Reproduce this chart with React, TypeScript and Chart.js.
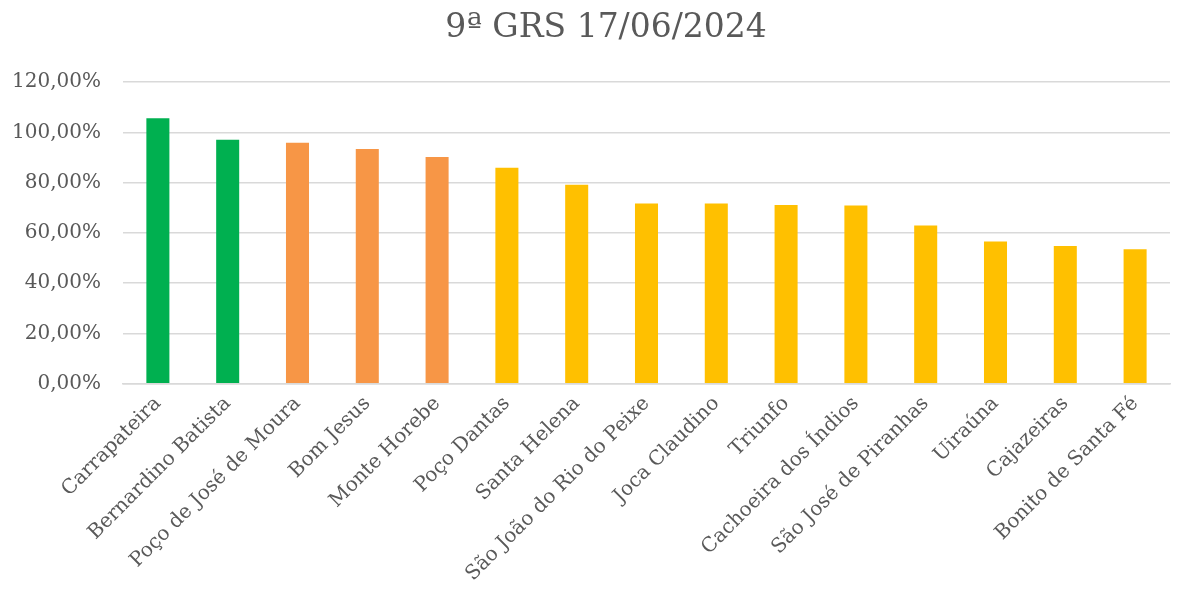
import React, { useEffect, useRef } from "react";
import { Chart, registerables } from "chart.js";

Chart.register(...registerables);

const categories = [
  "Carrapateira",
  "Bernardino Batista",
  "Poço de José de Moura",
  "Bom Jesus",
  "Monte Horebe",
  "Poço Dantas",
  "Santa Helena",
  "São João do Rio do Peixe",
  "Joca Claudino",
  "Triunfo",
  "Cachoeira dos Índios",
  "São José de Piranhas",
  "Uiraúna",
  "Cajazeiras",
  "Bonito de Santa Fé",
];

const values = [105.6, 97.0, 95.8, 93.4, 90.2, 85.9, 79.2, 71.7, 71.7, 71.1, 70.9, 63.0, 56.6, 54.8, 53.5];

const barColors = [
  "#00B050", "#00B050",
  "#F79646", "#F79646", "#F79646",
  "#FFC000", "#FFC000", "#FFC000", "#FFC000", "#FFC000",
  "#FFC000", "#FFC000", "#FFC000", "#FFC000", "#FFC000",
];

const titleText = "9ª GRS 17/06/2024";
const yMin = 0;
const yMax = 120;
const yStep = 20;

const FONT = "'DejaVu Serif', serif";

const titlePlugin = {
  id: "centeredTitle",
  afterDraw(chart: any) {
    const ctx = chart.ctx;
    ctx.save();
    ctx.fillStyle = "#595959";
    ctx.font = `33px ${FONT}`;
    ctx.textAlign = "center";
    ctx.textBaseline = "middle";
    ctx.fillText(titleText, chart.width / 2 + 15, 28);
    ctx.restore();
  },
};

export default function App() {
  const ref = useRef<HTMLCanvasElement | null>(null);

  useEffect(() => {
    if (!ref.current) return;
    const chart = new Chart(ref.current, {
      type: "bar",
      data: {
        labels: categories,
        datasets: [
          {
            data: values,
            backgroundColor: barColors,
            borderWidth: 0,
            barPercentage: 0.33,
            categoryPercentage: 1,
          },
        ],
      },
      plugins: [titlePlugin],
      options: {
        animation: false,
        responsive: false,
        maintainAspectRatio: false,
        layout: { padding: { left: -10, right: 12, top: 82, bottom: 0 } },
        plugins: {
          legend: { display: false },
          tooltip: { enabled: false },
          title: { display: false },
        },
        scales: {
          x: {
            grid: { display: false, drawTicks: false },
            border: { display: true, color: "#d9d9d9", width: 1.5 },
            ticks: {
              color: "#595959",
              font: { family: FONT, size: 20 },
              maxRotation: 45,
              minRotation: 45,
              autoSkip: false,
              padding: 8,
            },
            afterFit: (scale: any) => {
              scale.paddingLeft = 0;
            },
          },
          y: {
            min: yMin,
            max: yMax,
            grid: { color: "#d9d9d9", lineWidth: 1.5, drawTicks: false },
            border: { display: false },
            ticks: {
              stepSize: yStep,
              color: "#595959",
              font: { family: FONT, size: 20 },
              padding: 22,
              callback: (v: any) => Number(v).toFixed(2).replace(".", ",") + "%",
            },
            afterFit: (scale: any) => {
              scale.paddingTop = 0;
            },
          },
        },
      },
    });
    return () => chart.destroy();
  }, []);

  return (
    <div style={{ position: "fixed", left: 0, top: 0, width: 1182, height: 594, background: "#fff" }}>
      <canvas ref={ref} width={1182} height={594} style={{ width: 1182, height: 594 }} />
    </div>
  );
}
